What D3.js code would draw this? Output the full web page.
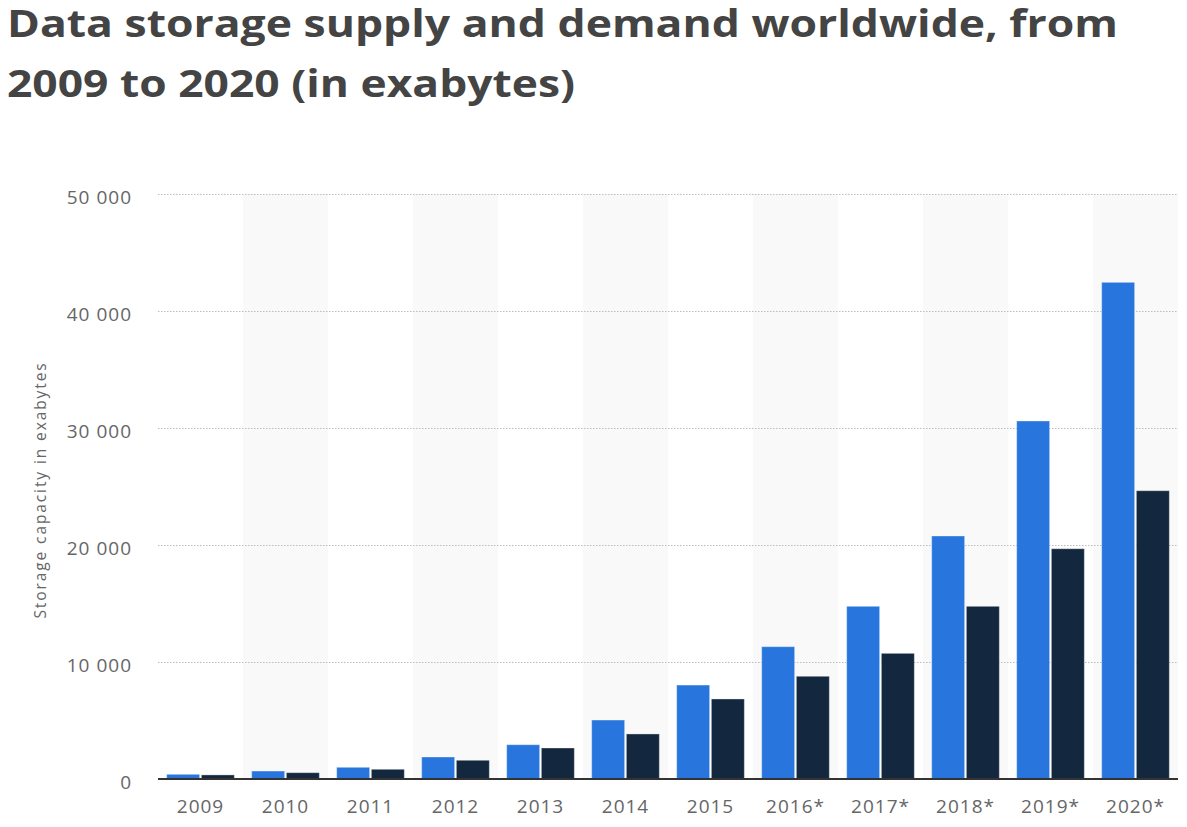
<!DOCTYPE html>
<html>
<head>
<meta charset="utf-8">
<script src="https://cdn.jsdelivr.net/npm/d3@7"></script>
<style>
  html, body { margin: 0; padding: 0; background: #fff; }
  svg { display: block; }
</style>
</head>
<body>
<svg id="chart" width="1187" height="827"></svg>
<script>
const categories = ["2009", "2010", "2011", "2012", "2013", "2014", "2015", "2016*", "2017*", "2018*", "2019*", "2020*"];
const seriesNames = ["Supply", "Demand"];
const supply = [400, 680, 1000, 1880, 2930, 5040, 8030, 11310, 14760, 20770, 30600, 42450];
const demand = [350, 540, 830, 1600, 2650, 3850, 6840, 8780, 10740, 14760, 19680, 24640];
const yTicks = [0, 10000, 20000, 30000, 40000, 50000];
const colors = ["#2876dd", "#13283e"];

const titleLines = ["Data storage supply and demand worldwide, from", "2009 to 2020 (in exabytes)"];
const yAxisTitle = "Storage capacity in exabytes";

(function () {
const svg = d3.select("#chart");
const pLeft = 158, pRight = 1178, pTop = 194, pBottom = 779;
const titleWidths = [1111, 568];

const x0 = d3.scaleBand().domain(categories).range([pLeft, pRight]).padding(0);
const x1 = d3.scaleBand().domain(seriesNames).range([0, x0.bandwidth()]).paddingInner(0.05).paddingOuter(0.25);
const y = d3.scaleLinear().domain([0, 50000]).range([pBottom, pTop]);

// title
svg.append("g").selectAll("text").data(titleLines).join("text")
  .attr("x", 7)
  .attr("y", (d, i) => 37 + i * 60)
  .attr("font-family", "'Open Sans', sans-serif")
  .attr("font-weight", 700)
  .attr("font-size", 38)
  .attr("fill", "#444")
  .attr("textLength", (d, i) => titleWidths[i])
  .attr("lengthAdjust", "spacingAndGlyphs")
  .text(d => d);

// alternating shading
svg.append("g").selectAll("rect").data(categories.filter((d, i) => i % 2 === 1)).join("rect")
  .attr("x", d => x0(d))
  .attr("y", pTop)
  .attr("width", x0.bandwidth())
  .attr("height", pBottom - pTop)
  .attr("fill", "#f9f9f9");

// gridlines
svg.append("g").selectAll("line").data(yTicks.filter(d => d > 0)).join("line")
  .attr("x1", pLeft).attr("x2", pRight)
  .attr("y1", d => y(d) + 0.5).attr("y2", d => y(d) + 0.5)
  .attr("stroke", "#bdbdbd")
  .attr("stroke-width", 1)
  .attr("stroke-dasharray", "1.5,1.5");

// y axis labels
const yAxis = d3.axisLeft(y).tickValues(yTicks).tickSize(0).tickPadding(0)
  .tickFormat(d => d3.format(",")(d).replace(/,/g, " "));
const yg = svg.append("g").attr("transform", `translate(${132},0)`).call(yAxis);
yg.select(".domain").remove();
yg.selectAll("text")
  .attr("font-family", "'Open Sans', sans-serif")
  .attr("font-size", 19)
  .attr("letter-spacing", "1px")
  .attr("fill", "#666")
  .attr("dy", "0.48em");

// y axis title
svg.append("text")
  .attr("transform", `translate(46,${490}) rotate(-90)`)
  .attr("text-anchor", "middle")
  .attr("font-family", "'Open Sans', sans-serif")
  .attr("font-size", 15.5)
  .attr("letter-spacing", "1.9px")
  .attr("fill", "#666")
  .text(yAxisTitle);

// bars
const groups = svg.append("g").selectAll("g").data(categories).join("g")
  .attr("transform", d => `translate(${x0(d)},0)`);
groups.selectAll("rect")
  .data((d, i) => [{ s: seriesNames[0], v: supply[i] }, { s: seriesNames[1], v: demand[i] }])
  .join("rect")
  .attr("x", d => x1(d.s))
  .attr("y", d => y(d.v))
  .attr("width", x1.bandwidth())
  .attr("height", d => pBottom - y(d.v))
  .attr("fill", (d, i) => colors[i])
  .attr("stroke", "rgba(255,255,255,0.35)")
  .attr("stroke-width", 1);

// x axis
const xAxis = d3.axisBottom(x0).tickSize(0).tickPadding(0);
const xg = svg.append("g").attr("transform", `translate(0,${pBottom})`).call(xAxis);
xg.select(".domain").remove();
xg.selectAll("text")
  .attr("font-family", "'Open Sans', sans-serif")
  .attr("font-size", 19)
  .attr("letter-spacing", "1px")
  .attr("fill", "#666")
  .attr("y", 34)
  .attr("dy", "0");

svg.append("line")
  .attr("x1", pLeft).attr("x2", pRight)
  .attr("y1", pBottom).attr("y2", pBottom)
  .attr("stroke", "#333")
  .attr("stroke-width", 2);
})();
</script>
</body>
</html>
